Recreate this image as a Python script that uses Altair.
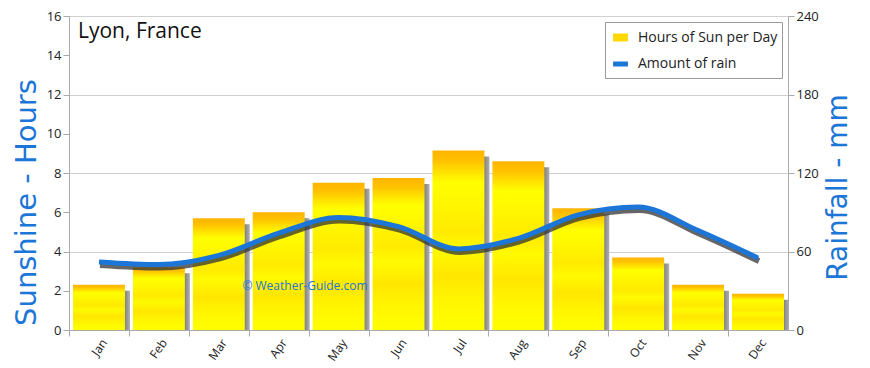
import altair as alt
import pandas as pd

months = ["Jan", "Feb", "Mar", "Apr", "May", "Jun", "Jul", "Aug", "Sep", "Oct", "Nov", "Dec"]
sun_hours = [2.3, 3.2, 5.7, 6.0, 7.5, 7.75, 9.15, 8.6, 6.2, 3.7, 2.3, 1.85]
rain_mm = [52, 50, 57, 74, 86, 79, 62, 70, 88, 94, 76, 55]

left_ticks = [0, 2, 4, 6, 8, 10, 12, 14, 16]
right_ticks = [0, 60, 120, 180, 240]
series_names = ["Hours of Sun per Day", "Amount of rain"]

df = pd.DataFrame({"month": months, "sun": sun_hours, "rain": rain_mm,
                   "series": ["Amount of rain"] * 12})

FONT = "Open Sans"
TFONT = "DejaVu Sans"
BLUE = "#1C76D8"

x_enc = alt.X("month:N", sort=months, title=None,
              scale=alt.Scale(paddingInner=0.133, paddingOuter=0.067),
              axis=alt.Axis(labelAngle=-55, bandPosition=0, tickOffset=-4, labelOffset=9,
                            labelFontSize=12, labelColor="#222", labelFont=FONT,
                            domainColor="#aaa", tickColor="#aaa", tickSize=6, grid=False,
                            labelPadding=4))

y_left = alt.Y("sun:Q", scale=alt.Scale(domain=[0, 16], nice=False),
               axis=alt.Axis(title="Sunshine - Hours", values=left_ticks, grid=False,
                             titleColor=BLUE, titleFontSize=29, titleFont=TFONT,
                             titleFontWeight="normal", titlePadding=5, titleY=186,
                             labelFontSize=13, labelColor="#222", labelFont=FONT,
                             domainColor="#aaa", tickColor="#aaa", tickSize=6))

bar_gradient = alt.Gradient(
    gradient="linear", x1=0, y1=0, x2=0, y2=1,
    stops=[alt.GradientStop(offset=0, color="#FFB400"),
           alt.GradientStop(offset=0.06, color="#FFC200"),
           alt.GradientStop(offset=0.12, color="#FFE200"),
           alt.GradientStop(offset=0.18, color="#FFFF00"),
           alt.GradientStop(offset=0.3, color="#FFF600"),
           alt.GradientStop(offset=0.45, color="#FFEA00"),
           alt.GradientStop(offset=0.55, color="#FFFA00"),
           alt.GradientStop(offset=0.7, color="#FFE600"),
           alt.GradientStop(offset=0.85, color="#FFF600"),
           alt.GradientStop(offset=1, color="#FFFF00")])

shadow_gradient = alt.Gradient(
    gradient="linear", x1=0, y1=0, x2=1, y2=0,
    stops=[alt.GradientStop(offset=0, color="#6e6e6e"),
           alt.GradientStop(offset=0.9, color="#808080"),
           alt.GradientStop(offset=1, color="#b0b0b0")])

bar_shadow = alt.Chart(df).mark_bar(color=shadow_gradient, xOffset=5, yOffset=6,
                                    y2Offset=0).encode(x=x_enc, y=y_left, y2=alt.datum(0))
bars = alt.Chart(df).mark_bar(color=bar_gradient).encode(x=x_enc, y=y_left)

y_right = alt.Y("rain:Q", scale=alt.Scale(domain=[0, 240], nice=False),
                axis=alt.Axis(title="Rainfall - mm", values=right_ticks, grid=True,
                              gridColor="#d0d0d0", orient="right",
                              titleColor=BLUE, titleFontSize=28, titleFont=TFONT,
                              titleFontWeight="normal", titleAngle=270, titlePadding=34,
                              titleY=171,
                              labelFontSize=13, labelColor="#222", labelFont=FONT,
                              domainColor="#aaa", tickColor="#aaa", tickSize=6))

line_shadow = alt.Chart(df).mark_line(color="#333333", strokeWidth=6, opacity=0.75,
                                      interpolate="monotone", yOffset=3, xOffset=1).encode(
    x=x_enc, y=y_right)

legend = alt.Legend(
    title=None, orient="top-right", offset=6, fillColor="white", strokeColor="#999",
    padding=4, rowPadding=0, labelFontSize=14, labelFont=FONT, labelColor="#222",
    labelOffset=6, symbolType="stroke", symbolSize=220)

line = alt.Chart(df).mark_line(interpolate="monotone").encode(
    x=x_enc, y=y_right,
    color=alt.Color("series:N", scale=alt.Scale(domain=series_names, range=["#FFD800", BLUE]),
                    legend=legend),
    strokeWidth=alt.StrokeWidth("series:N",
                                scale=alt.Scale(domain=series_names, range=[8, 5]),
                                legend=legend))

title_text = alt.Chart(pd.DataFrame({"t": ["Lyon, France"]})).mark_text(
    align="left", baseline="alphabetic", fontSize=21, font=FONT, color="#111").encode(
    x=alt.value(9), y=alt.value(22), text="t:N")

watermark = alt.Chart(pd.DataFrame({"t": ["© Weather-Guide.com"]})).mark_text(
    align="center", baseline="middle", fontSize=12, font=FONT, color=BLUE).encode(
    x=alt.value(236), y=alt.value(270), text="t:N")

left_layer = alt.layer(bar_shadow, bars)
right_layer = alt.layer(line_shadow, line, title_text, watermark)

chart = alt.layer(left_layer, right_layer).resolve_scale(y="independent").properties(
    width=719, height=314,
    autosize=alt.AutoSizeParams(type="none"),
    padding={"left": 61, "top": 8, "right": 74, "bottom": 40},
).configure_view(stroke=None).configure(background="white")

chart.save("out.html", embed_options={"renderer": "svg", "actions": False})
